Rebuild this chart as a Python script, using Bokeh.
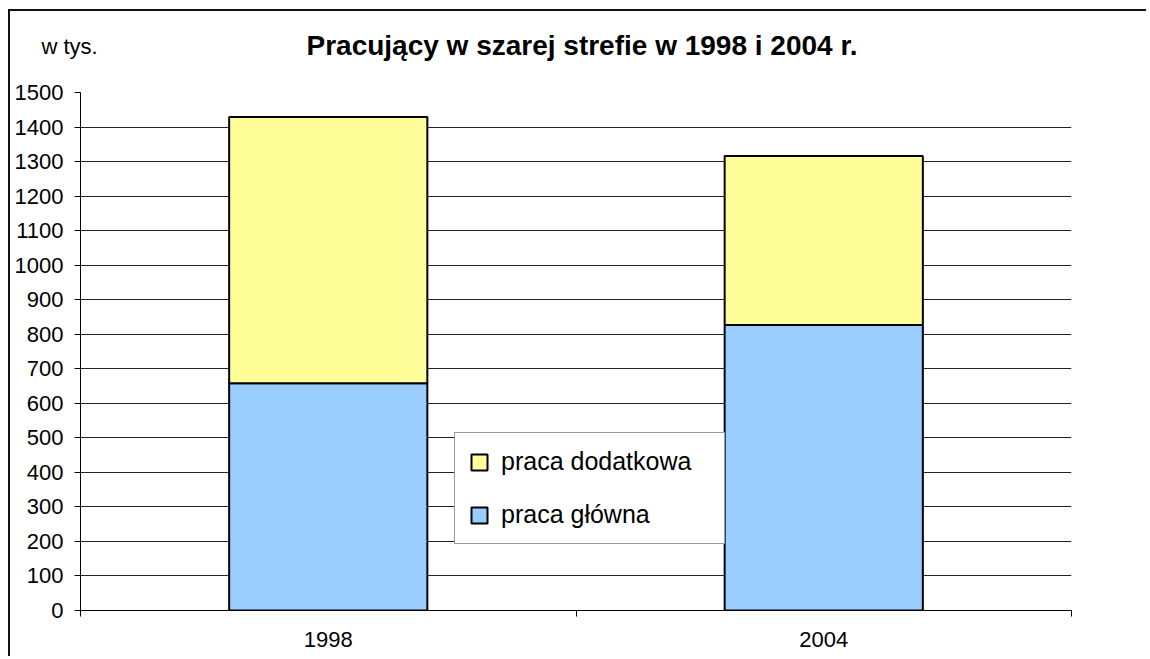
from bokeh.plotting import figure
from bokeh.models import (Range1d, FixedTicker, Legend, LegendItem, Label,
                          ColumnDataSource)
from bokeh.embed import file_html
from bokeh.resources import INLINE

# ---- data ----
years = ["1998", "2004"]
praca_glowna = [658, 827]
praca_dodatkowa = [771, 489]
series = ["praca_glowna", "praca_dodatkowa"]
series_labels = ["praca główna", "praca dodatkowa"]
colors = ["#99CCFF", "#FFFF99"]
y_ticks = list(range(0, 1600, 100))
title_text = "Pracujący w szarej strefie w 1998 i 2004 r."
unit_text = "w tys."

idx = list(range(len(years)))
source = ColumnDataSource(dict(x=idx, year=years,
                               praca_glowna=praca_glowna,
                               praca_dodatkowa=praca_dodatkowa))

FONT = "Liberation Sans"
BORDER = "2px solid #111111"

# ---- header strip holding the title texts ----
head = figure(width=1138, height=71, x_range=Range1d(0, 1), y_range=Range1d(0, 1),
              x_axis_type=None, y_axis_type=None,
              output_backend="svg", toolbar_location=None,
              min_border_left=0, min_border_right=0,
              min_border_top=0, min_border_bottom=0)
head.title.visible = False
head.outline_line_color = None
head.grid.visible = False
head.styles = {"margin-left": "8px", "margin-top": "9px",
               "border-left": BORDER, "border-top": BORDER}
head.add_layout(Label(x=296, y=37, x_units="screen", y_units="screen",
                      text=title_text, text_align="left", text_baseline="middle",
                      text_font=FONT, text_font_style="bold", text_font_size="28px",
                      text_color="black"))
head.add_layout(Label(x=31, y=36, x_units="screen", y_units="screen",
                      text=unit_text, text_align="left", text_baseline="middle",
                      text_font=FONT, text_font_size="22px", text_color="black"))

# ---- main chart ----
p = figure(width=1138, height=576,
           x_range=Range1d(-0.5, len(years) - 0.5),
           y_range=Range1d(0, 1500),
           output_backend="svg", toolbar_location=None,
           min_border_left=70, min_border_right=77,
           min_border_top=12, min_border_bottom=46)
p.title.visible = False
p.outline_line_color = None
p.background_fill_color = "white"
p.border_fill_color = "white"
p.styles = {"margin-left": "8px", "border-left": BORDER}

renderers = p.vbar_stack(series, x="x", width=0.4, source=source,
                         fill_color=colors, line_color="black", line_width=2)

# axes
p.yaxis.ticker = FixedTicker(ticks=y_ticks)
p.ygrid.ticker = FixedTicker(ticks=y_ticks)
p.ygrid.grid_line_color = "#222222"
p.ygrid.grid_line_width = 1
p.xgrid.visible = False

for ax in (p.xaxis[0], p.yaxis[0]):
    ax.axis_line_color = "black"
    ax.axis_line_width = 1
    ax.major_label_text_font = FONT
    ax.major_label_text_font_size = "22px"
    ax.major_label_text_color = "black"

p.yaxis.major_tick_out = 6
p.yaxis.major_tick_in = 0
p.yaxis.major_tick_line_color = "black"
p.yaxis.minor_tick_line_color = None
p.yaxis.major_label_standoff = 11

p.xaxis.ticker = FixedTicker(ticks=idx,
                             minor_ticks=[i - 0.5 for i in range(len(years) + 1)])
p.xaxis.major_label_overrides = {i: y for i, y in enumerate(years)}
p.xaxis.major_tick_line_color = None
p.xaxis.minor_tick_line_color = "black"
p.xaxis.minor_tick_out = 6
p.xaxis.minor_tick_in = 0
p.xaxis.major_label_standoff = 15

# legend
legend = Legend(items=[LegendItem(label=series_labels[1], renderers=[renderers[1]]),
                       LegendItem(label=series_labels[0], renderers=[renderers[0]])],
                location=(374, 66), orientation="vertical",
                padding=14, spacing=24, margin=0,
                glyph_width=20, glyph_height=20, label_standoff=12,
                label_width=209,
                label_text_font=FONT, label_text_font_size="25px",
                label_text_color="black",
                border_line_color="#333333", border_line_width=1,
                background_fill_color="white", background_fill_alpha=1.0)
p.add_layout(legend)

open("out.html", "w").write(file_html([head, p], INLINE))
